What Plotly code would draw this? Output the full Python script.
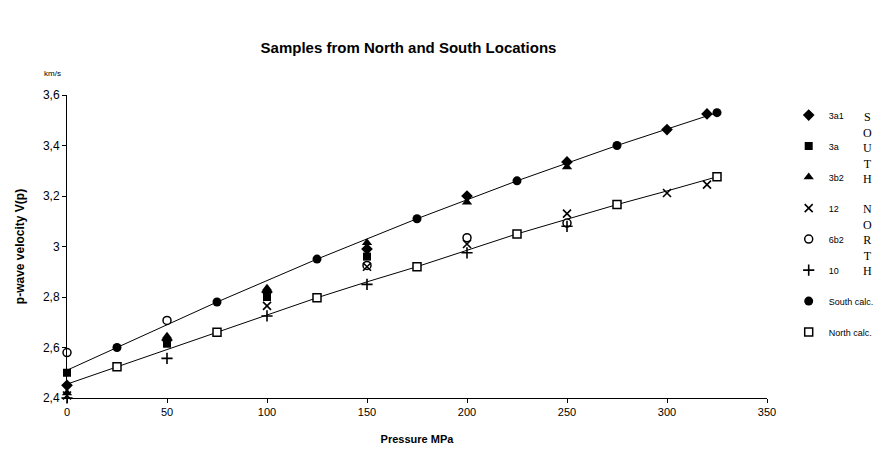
import plotly.graph_objects as go

# ---------------- data ----------------
calc_x = [0, 25, 50, 75, 100, 125, 150, 175, 200, 225, 250, 275, 300, 325]
south_calc = [2.51, 2.60, 2.69, 2.78, 2.865, 2.95, 3.03, 3.11, 3.185, 3.26, 3.33, 3.40, 3.465, 3.53]
north_calc = [2.455, 2.524, 2.593, 2.66, 2.73, 2.797, 2.86, 2.92, 2.985, 3.05, 3.108, 3.166, 3.22, 3.276]

s3a1_x = [0, 50, 100, 150, 200, 250, 300, 320]
s3a1_y = [2.45, 2.63, 2.82, 2.99, 3.20, 3.335, 3.463, 3.525]

s3a_x = [0, 50, 100, 150]
s3a_y = [2.50, 2.615, 2.80, 2.96]

s3b2_x = [0, 50, 100, 150, 200, 250]
s3b2_y = [2.42, 2.645, 2.835, 3.015, 3.175, 3.315]

n12_x = [0, 100, 150, 200, 250, 300, 320]
n12_y = [2.41, 2.765, 2.92, 3.01, 3.13, 3.212, 3.245]

n6b2_x = [0, 50, 150, 200, 250]
n6b2_y = [2.58, 2.707, 2.925, 3.035, 3.093]

n10_x = [0, 50, 100, 150, 200, 250]
n10_y = [2.40, 2.557, 2.725, 2.85, 2.975, 3.08]

x_ticks = [0, 50, 100, 150, 200, 250, 300, 350]
y_ticks = [2.4, 2.6, 2.8, 3.0, 3.2, 3.4, 3.6]
y_tick_text = ["2,4", "2,6", "2,8", "3", "3,2", "3,4", "3,6"]

# calc markers shown at the odd-25 positions
calc_mark_x = [x for x in calc_x if x % 50 == 25]
south_mark = [y for x, y in zip(calc_x, south_calc) if x % 50 == 25]
north_mark = [y for x, y in zip(calc_x, north_calc) if x % 50 == 25]

FONT = "Liberation Sans, Arial, sans-serif"
SERIF = "Liberation Serif, Times New Roman, serif"
fig = go.Figure()

# calc lines (underneath)
fig.add_trace(go.Scatter(x=calc_x, y=south_calc, mode="lines", line=dict(color="black", width=1),
                         showlegend=False, hoverinfo="skip", cliponaxis=False))
fig.add_trace(go.Scatter(x=calc_x, y=north_calc, mode="lines", line=dict(color="black", width=1),
                         showlegend=False, hoverinfo="skip", cliponaxis=False))

def pts(x, y, name, symbol, rank, size=8, color="black", lw=0, lcolor="black"):
    fig.add_trace(go.Scatter(
        x=x, y=y, mode="markers", name=name, legendrank=rank, legendgroup=name,
        marker=dict(symbol=symbol, size=size, color=color, line=dict(width=lw, color=lcolor)),
        cliponaxis=False))

pts(calc_mark_x, south_mark, "South calc.", "circle", 7, size=9)
pts(calc_mark_x, north_mark, "North calc.", "square", 8, size=8, color="white", lw=1.5)
pts(s3a_x, s3a_y, "3a", "square", 2, size=8)
pts(s3b2_x, s3b2_y, "3b2", "triangle-up", 3, size=9)
pts(s3a1_x, s3a1_y, "3a1", "diamond", 1, size=9)
pts(n6b2_x, n6b2_y, "6b2", "circle", 5, size=8, color="white", lw=1.5)
pts(n12_x, n12_y, "12", "x-thin", 4, size=8, lw=1.6)
pts(n10_x, n10_y, "10", "cross-thin", 6, size=8, lw=1.6)

fig.update_layout(
    width=890, height=454,
    margin=dict(l=59, r=131, t=87, b=64),
    paper_bgcolor="white", plot_bgcolor="white",
    font=dict(family=FONT, color="black", size=11),
    title=dict(text="<b>Samples from North and South Locations</b>", x=0.45, xanchor="center",
               y=0.912, yanchor="middle", font=dict(size=15, family=FONT, color="black")),
    legend=dict(x=1.031, xanchor="left", y=0.9815, yanchor="top", tracegroupgap=12,
                font=dict(size=9, family=FONT, color="black"), bgcolor="rgba(0,0,0,0)"),
    showlegend=True,
)

fig.update_xaxes(range=[0, 350], tickvals=x_ticks, ticktext=[str(v) for v in x_ticks],
                 showline=True, linecolor="black", linewidth=1, ticks="outside", ticklen=4,
                 tickcolor="black", showgrid=False, zeroline=False, automargin=False,
                 title=dict(text="<b>Pressure MPa</b>", font=dict(size=11, color="black"), standoff=18),
                 tickfont=dict(size=11, color="black"))
fig.update_yaxes(range=[2.4, 3.6], tickvals=y_ticks, ticktext=y_tick_text,
                 showline=True, linecolor="black", linewidth=1, ticks="outside", ticklen=4,
                 tickcolor="black", showgrid=False, zeroline=False, automargin=False,
                 title=dict(text="<b>p-wave velocity V(p)</b>", font=dict(size=12, color="black"), standoff=15),
                 tickfont=dict(size=12, color="black"))

fig.add_annotation(text="km/s", xref="paper", yref="paper", x=-0.0214, y=1.0726,
                   xanchor="center", yanchor="middle", showarrow=False, font=dict(size=8))
fig.add_annotation(text="S<br>O<br>U<br>T<br>H", xref="paper", yref="paper", x=1.144, y=0.825,
                   xanchor="center", yanchor="middle", showarrow=False, align="center",
                   font=dict(size=12, family=SERIF))
fig.add_annotation(text="N<br>O<br>R<br>T<br>H", xref="paper", yref="paper", x=1.144, y=0.5215,
                   xanchor="center", yanchor="middle", showarrow=False, align="center",
                   font=dict(size=12, family=SERIF))

fig.write_html("out.html")
